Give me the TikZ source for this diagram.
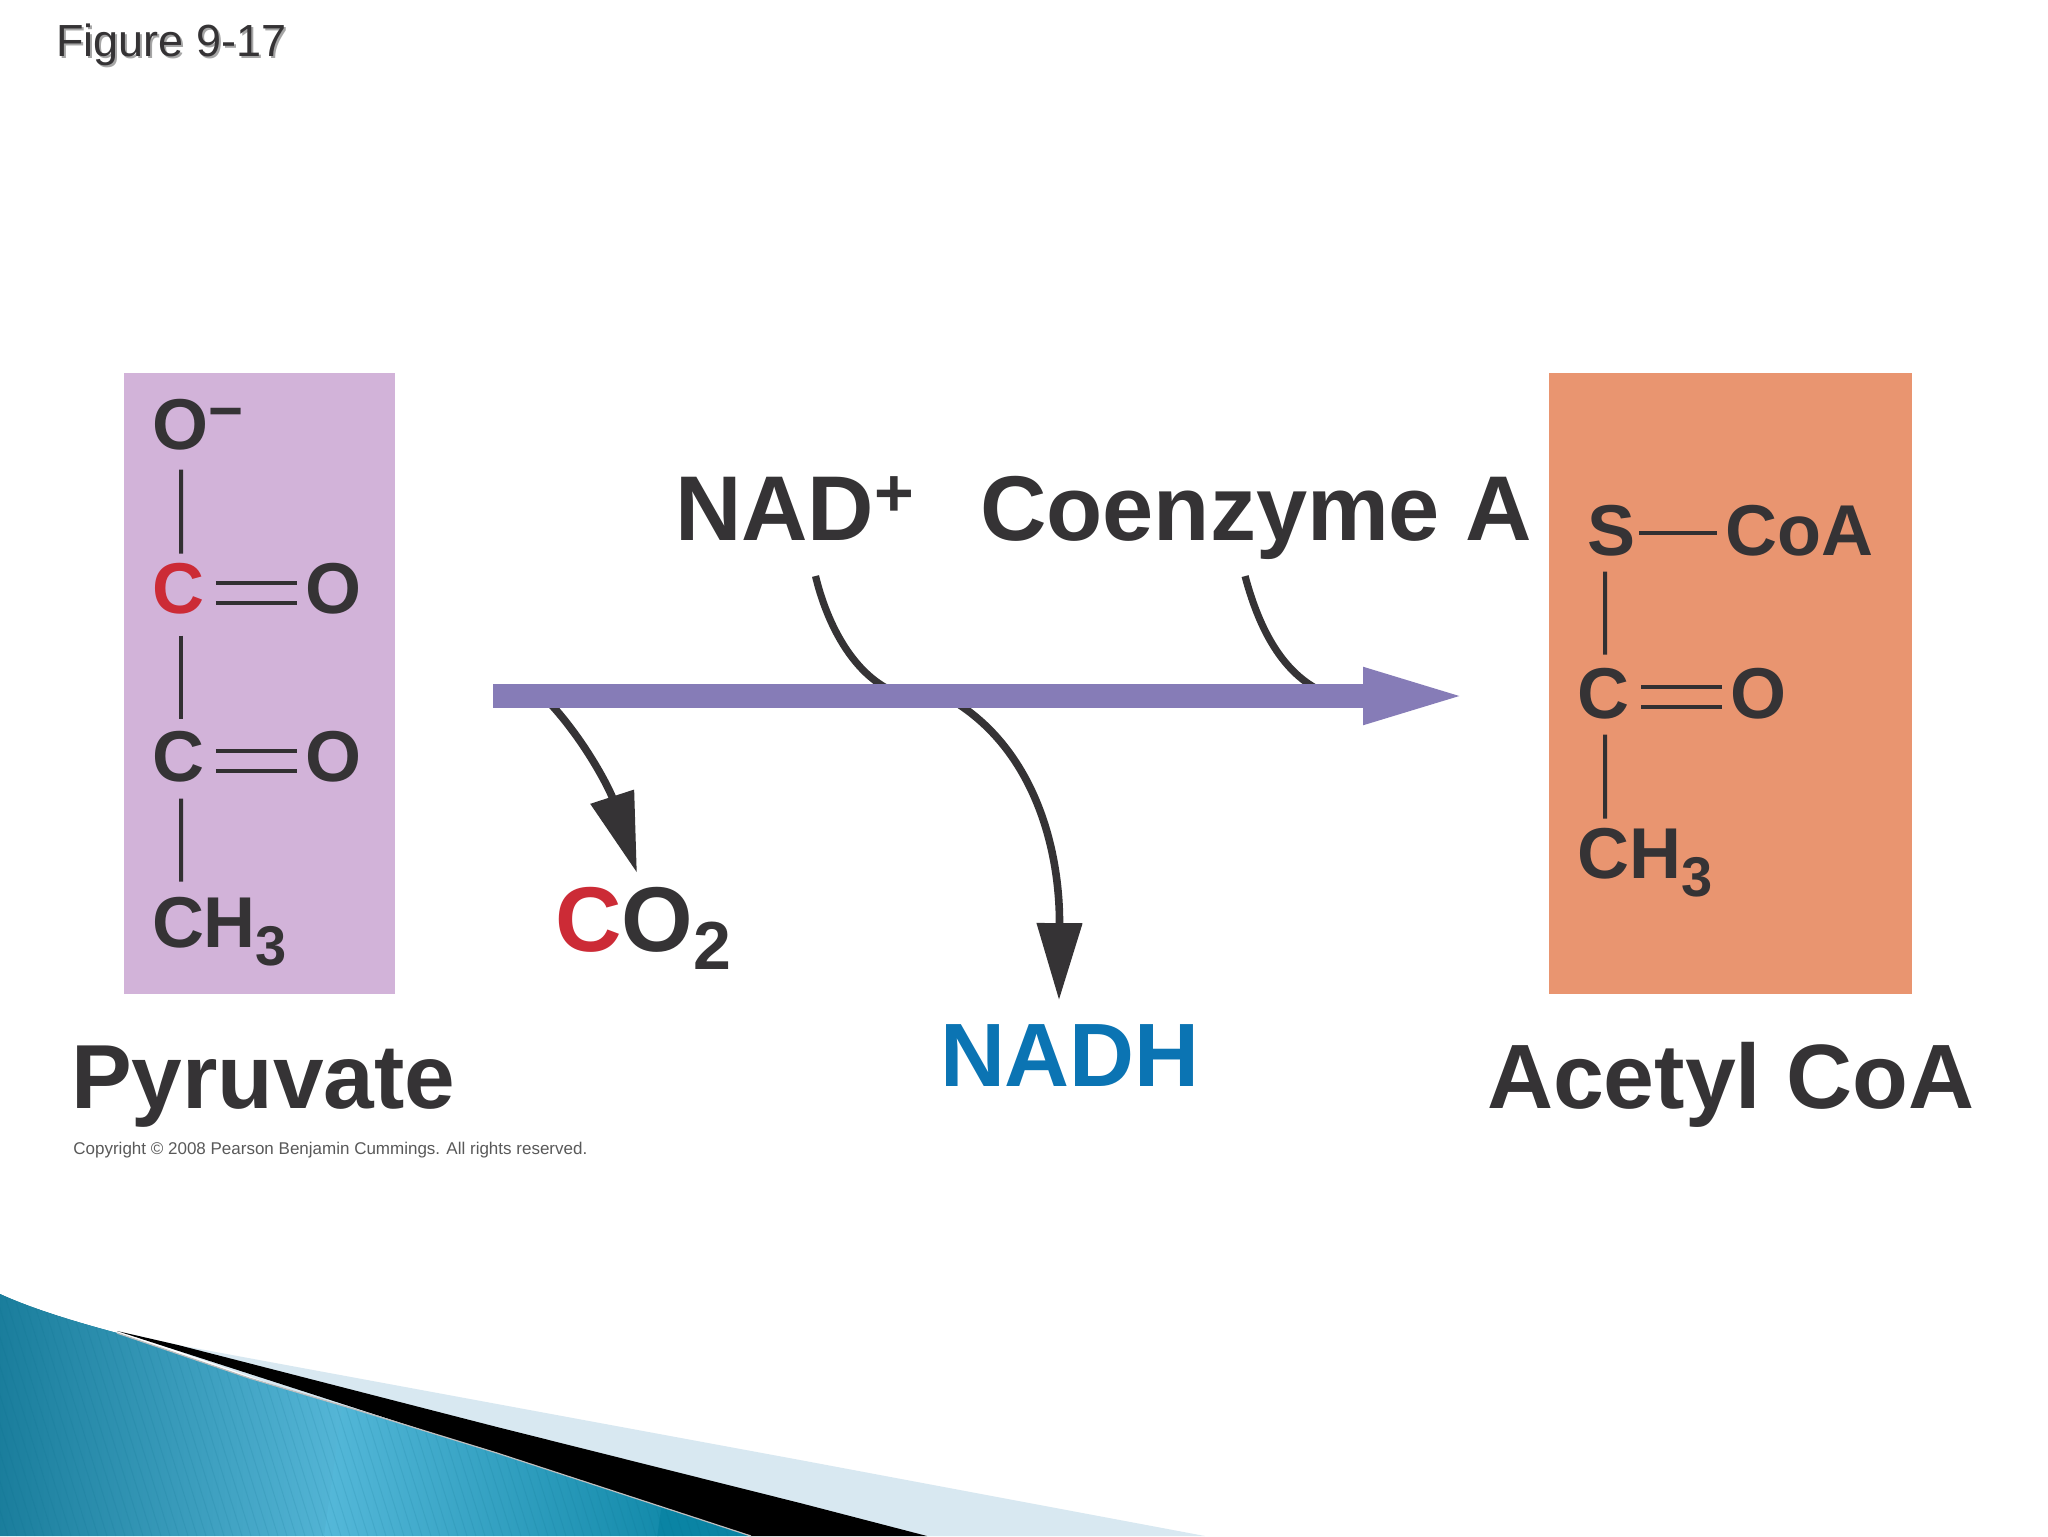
\documentclass[tikz,border=0pt]{standalone}
\usepackage{fontspec}
\setmainfont{Liberation Sans}
\usetikzlibrary{arrows.meta,calc}
\definecolor{ink}{HTML}{353335}
\definecolor{pinkbox}{HTML}{D2B3D9}
\definecolor{orangebox}{HTML}{E99570}
\definecolor{barpurple}{HTML}{867CB7}
\definecolor{redc}{HTML}{CC2B36}
\definecolor{bluenadh}{HTML}{0B74B3}
\definecolor{tealdark}{HTML}{066A88}
\definecolor{teallight}{HTML}{5CBDDE}
\definecolor{tealend}{HTML}{0A84A4}
\definecolor{paleblue}{HTML}{D8E8F1}
\newcommand{\fs}[1]{\fontsize{#1}{#1}\selectfont}
\newcommand{\lowsub}[3]{\raisebox{-#2}{\fs{#3}#1}}
\tikzset{
  lbl/.style={anchor=base west,inner sep=0pt,outer sep=0pt,text=ink,font=\bfseries\fs{46}},
  atom/.style={anchor=base west,inner sep=0pt,outer sep=0pt,text=ink,font=\bfseries\fs{36}},
  bond/.style={line width=2pt,draw=ink!95!black},
  curveline/.style={line width=3.6pt,draw=ink},
  curvehead/.style={line width=3.8pt,draw=ink,-{Triangle[length=#1,width=22pt]}},
  box/.style={anchor=north west,inner sep=0pt,outer sep=0pt,minimum height=310.5pt},
}
\begin{document}
\begin{tikzpicture}[x=0.5pt,y=-0.5pt]
\useasboundingbox (0,0) rectangle (2048,1536);
\fill[white] (0,0) rectangle (2048,1536);

% corner decoration
\fill[paleblue] (130,1334) -- (178,1345) -- (800,1460) -- (1205,1536) -- (700,1536) -- cycle;
\fill[black] (117,1331) -- (178,1345) -- (497,1427) -- (800,1503) -- (927,1536) -- (751,1536) -- cycle;
\begin{scope}
  \clip (0,1294) .. controls (35,1310) and (80,1323) .. (117,1333) -- (249,1378) -- (357,1410) -- (497,1453) -- (751,1536) -- (0,1536) -- cycle;
  \fill[tealdark] (0,1280) rectangle (800,1536);
  \begin{scope}[rotate around={-8:(315,1500)}]
    \shade[left color=tealdark,right color=teallight] (-80,1100) rectangle (330,1800);
    \shade[left color=teallight,right color=tealend] (329,1100) rectangle (660,1800);
    \fill[tealend] (659,1100) rectangle (1000,1800);
  \end{scope}
  \foreach \k in {-12,...,90}
    \draw[tealdark,opacity=.12,line width=.5pt] ({\k*9},1280) -- ({\k*9+80},1536);
\end{scope}
\draw[line width=.6pt,draw=black!25] (117,1333) -- (249,1378) -- (357,1410) -- (497,1453) -- (751,1536);

% title
\node[anchor=base west,inner sep=0pt,text=black!35,font=\fs{22.5}] (titleshadow) at (58,59) {Figure 9-17};
\node[anchor=base west,inner sep=0pt,text=ink,font=\fs{22.5}] (title) at (56,57) {Figure 9-17};

% boxes
\node[box,fill=pinkbox,minimum width=135.5pt] (pyrbox) at (124,373) {};
\node[box,fill=orangebox,minimum width=181.5pt] (acebox) at (1549,373) {};

% curved side arrows (below main bar)
\node[lbl] (nad) at (675,540) {NAD\raisebox{12pt}{\fs{34}+}};
\node[lbl] (coenz) at (980,540) {Coenzyme A};
\node[lbl] (co2) at (555,951) {\textcolor{redc}{C}O\lowsub{2}{9pt}{34}};
\node[lbl,text=bluenadh,font=\bfseries\fs{45}] (nadh) at (940,1086) {NADH};
\coordinate (barnad) at (890,690);
\coordinate (barcoa) at (1319,690);
\coordinate (barco) at (547,700);
\coordinate (barnadh) at (952,700);

\draw[curveline] ([xshift=10.5pt,yshift=-18pt]nad.south) .. controls (826,620) and (850,670) .. (barnad);
\draw[curveline] ([xshift=-5.5pt,yshift=-8.5pt]coenz.south) .. controls (1258,625) and (1280,670) .. (barcoa);
\draw[curvehead=40pt] (barco) .. controls (585,740) and (610,790) .. ([xshift=-3pt,yshift=7pt]co2.north);
\draw[curvehead=38.5pt] (barnadh) .. controls (1035,750) and (1060,850) .. ([xshift=-5.5pt,yshift=12pt]nadh.north);

% main arrow
\draw[line width=11.75pt,draw=barpurple,-{Triangle[length=54pt,width=25pt]}]
  ([shift={(49pt,-6.25pt)}]pyrbox.east) -- ([shift={(-39pt,-6.25pt)}]acebox.west);

% pyruvate
\node[atom] (po) at (152,449) {O\raisebox{9pt}{\fs{30}−}};
\node[atom,text=redc] (pc1) at (152,613) {C};
\node[atom] (po1) at (305,613) {O};
\node[atom] (pc2) at (152,781) {C};
\node[atom] (po2) at (305,781) {O};
\node[atom] (pch) at (152,947) {CH\lowsub{3}{9pt}{28}};
\draw[bond] ([xshift=14.5pt,yshift=-10pt]po.south west) -- ([xshift=1.5pt,yshift=4.5pt]pc1.north);
\draw[bond] ([xshift=1.5pt,yshift=-11pt]pc1.south) -- ([xshift=1.5pt,yshift=6pt]pc2.north);
\draw[bond] ([xshift=1.5pt,yshift=-8.5pt]pc2.south) -- ([xshift=14.5pt,yshift=7.5pt]pch.north west);
\draw[bond] ([shift={(6pt,2.5pt)}]pc1.east) -- ([shift={(-4pt,2.5pt)}]po1.west);
\draw[bond] ([shift={(6pt,-7.5pt)}]pc1.east) -- ([shift={(-4pt,-7.5pt)}]po1.west);
\draw[bond] ([shift={(6pt,2.5pt)}]pc2.east) -- ([shift={(-4pt,2.5pt)}]po2.west);
\draw[bond] ([shift={(6pt,-7.5pt)}]pc2.east) -- ([shift={(-4pt,-7.5pt)}]po2.west);

% acetyl CoA
\node[atom] (as) at (1587,555) {S};
\node[atom] (acoa) at (1725,555) {CoA};
\node[atom] (ac) at (1577,718) {C};
\node[atom] (ao) at (1730,718) {O};
\node[atom] (ach) at (1577,878) {CH\lowsub{3}{9pt}{28}};
\draw[bond] ([shift={(2pt,-1.5pt)}]as.east) -- ([shift={(-4pt,-1.5pt)}]acoa.west);
\draw[bond] ([xshift=-3pt,yshift=-8pt]as.south) -- ([xshift=1pt,yshift=6.5pt]ac.north);
\draw[bond] ([xshift=1pt,yshift=-8pt]ac.south) -- ([xshift=14pt,yshift=4.5pt]ach.north west);
\draw[bond] ([shift={(6pt,3pt)}]ac.east) -- ([shift={(-4pt,3pt)}]ao.west);
\draw[bond] ([shift={(6pt,-7pt)}]ac.east) -- ([shift={(-4pt,-7pt)}]ao.west);

% labels
\node[lbl,font=\bfseries\fs{45.5}] (pyruvate) at (71,1108) {Pyruvate};
\node[lbl,font=\bfseries\fs{45.7}] (acetyl) at (1487,1108) {Acetyl CoA};
\node[anchor=base west,inner sep=0pt,text=black!65,font=\fs{8.5}] (copyright) at (73,1154) {Copyright © 2008 Pearson Benjamin Cummings. All rights reserved.};
\end{tikzpicture}
\end{document}
